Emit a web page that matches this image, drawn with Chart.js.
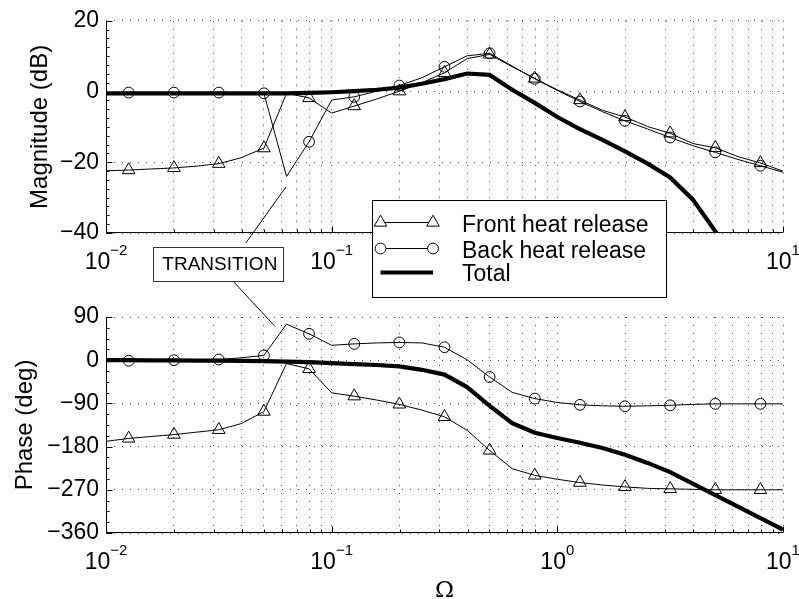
<!DOCTYPE html>
<html>
<head>
<meta charset="utf-8">
<script src="https://cdn.jsdelivr.net/npm/chart.js@4.4.1/dist/chart.umd.min.js"></script>
<style>
  body { margin: 0; background: #fff; }
  #wrap { position: relative; width: 799px; height: 599px; }
  #wrap canvas { position: absolute; left: 0; top: 0; }
</style>
</head>
<body>
<div id="wrap">
  <canvas id="mag-chart" width="799" height="599"></canvas>
  <canvas id="phase-chart" width="799" height="599"></canvas>
</div>
<script>
// frequency points (Omega), markers on every other one
const omega = [0.0100, 0.0126, 0.0158, 0.0200, 0.0251, 0.0316, 0.0398, 0.0501, 0.0631, 0.0794,
  0.1000, 0.1259, 0.1585, 0.1995, 0.2512, 0.3162, 0.3981, 0.5012, 0.6310, 0.7943,
  1.000, 1.259, 1.585, 1.995, 2.512, 3.162, 3.981, 5.012, 6.310, 7.943, 10.00];

// magnitude (dB)
const frontMag = [-22.4, -22.2, -21.9, -21.6, -21.1, -20.4, -18.7, -16.0, -0.5, -1.8,
  -6.1, -4.1, -2.1, 0.1, 2.5, 5.3, 9.3, 10.5, 7.0, 3.7,
  0.5, -2.4, -5.3, -7.2, -9.9, -11.8, -14.7, -15.9, -18.4, -20.2, -22.5];
const backMag = [-0.3, -0.3, -0.3, -0.3, -0.3, -0.3, -0.4, -0.5, -24.0, -14.2,
  -2.4, -1.5, 0.1, 1.7, 3.9, 7.0, 10.1, 10.8, 7.2, 3.6,
  0.3, -2.8, -5.7, -8.3, -10.6, -13.0, -15.3, -17.2, -19.2, -21.0, -22.8];
const totalMag = [-0.5, -0.5, -0.5, -0.5, -0.5, -0.5, -0.5, -0.5, -0.5, -0.4,
  -0.2, 0.1, 0.5, 1.1, 2.2, 3.5, 5.1, 4.7, 0.5, -3.2,
  -7.2, -10.6, -13.7, -16.9, -20.4, -24.3, -30.5, -39.5, -49, -59, -69];

// phase (deg)
const frontPhase = [-169, -163, -159, -155, -150, -145, -132, -107, -7, -18,
  -68, -75, -83, -92, -104, -118, -146, -188, -226, -240,
  -248, -255, -260, -264, -267, -268, -269, -270, -270, -270, -270];
const backPhase = [-1, -1, -0.5, 0, 0.5, 1.5, 5, 10, 75, 55,
  31, 34, 36, 37, 36, 27, 1, -35, -67, -80,
  -88, -93, -95, -96, -95, -94, -92, -91, -91, -91, -91];
const totalPhase = [0, 0, -0.5, -0.5, -1, -1, -1.5, -2, -3, -4,
  -6, -8, -10, -13, -20, -30, -56, -95, -131, -151,
  -162, -172, -183, -197, -214, -233, -257, -281, -305, -329, -353];

// ticks
const xGrid = [0.01, 0.02, 0.03, 0.04, 0.05, 0.06, 0.07, 0.08, 0.09,
  0.1, 0.2, 0.3, 0.4, 0.5, 0.6, 0.7, 0.8, 0.9,
  1, 2, 3, 4, 5, 6, 7, 8, 9, 10];
const decadeTicks = [0.01, 0.1, 1, 10];
const decadeExp = ["\u22122", "\u22121", "0", "1"];
const magTicks = [-40, -20, 0, 20];
const phaseTicks = [-360, -270, -180, -90, 0, 90];

const seriesNames = ["Front heat release", "Back heat release", "Total"];

// transition note anchors (data units)
const noteText = "TRANSITION";
const noteMagTip = { x: 0.0627, y: -27 };
const notePhaseTip = { x: 0.0562, y: 70 };
const noteBoxX = 0.0313;

const FONT = "'Liberation Sans', Arial, Helvetica, sans-serif";

function pts(ys) {
  return omega.map((w, i) => ({ x: w, y: ys[i] }));
}

function makeDatasets(f, b, t) {
  const thin = { borderColor: "#000", borderWidth: 1, pointBorderColor: "#000",
    pointBackgroundColor: "rgba(0,0,0,0)", pointBorderWidth: 1, tension: 0,
    clip: { left: 6, top: 6, right: 6, bottom: 0 } };
  return [
    Object.assign({ label: seriesNames[0], data: pts(f), pointStyle: "triangle",
      pointRadius: (c) => (c.dataIndex % 2 ? 7.3 : 0) }, thin),
    Object.assign({ label: seriesNames[1], data: pts(b), pointStyle: "circle",
      pointRadius: (c) => (c.dataIndex % 2 ? 5.4 : 0) }, thin),
    { label: seriesNames[2], data: pts(t), borderColor: "#000", borderWidth: 4.2,
      pointRadius: 0, tension: 0, clip: { left: 6, top: 6, right: 6, bottom: 0 } },
  ];
}

// black axes on left/bottom with inward ticks + 10^n labels
const matlabAxes = {
  id: "matlabAxes",
  afterDatasetsDraw(chart, args, opts) {
    const { ctx, chartArea: a, scales: { x, y } } = chart;
    const L = Math.round(a.left) + 0.5;
    const B = Math.round(a.bottom) - 0.5;
    ctx.save();
    ctx.strokeStyle = "#000";
    ctx.lineWidth = 1;
    ctx.beginPath();
    ctx.moveTo(L, a.top);
    ctx.lineTo(L, B);
    ctx.lineTo(a.right, B);
    xGrid.forEach((v) => {
      const px = Math.round(x.getPixelForValue(v)) + 0.5;
      const len = decadeTicks.includes(v) ? 6 : 3;
      ctx.moveTo(px, B);
      ctx.lineTo(px, B - len);
    });
    const n = Math.round((y.max - y.min) / opts.minor);
    for (let i = 0; i <= n; i++) {
      const v = y.min + i * opts.minor;
      const py = Math.round(y.getPixelForValue(v)) + 0.5;
      const len = i % opts.per === 0 ? 6 : 3;
      ctx.moveTo(L, py);
      ctx.lineTo(L + len, py);
    }
    ctx.stroke();

    ctx.fillStyle = "#000";
    ctx.textBaseline = "alphabetic";
    ctx.textAlign = "left";
    decadeTicks.forEach((v, i) => {
      const px = x.getPixelForValue(v);
      ctx.font = "23px " + FONT;
      const wb = ctx.measureText("10").width;
      ctx.font = "15px " + FONT;
      const ws = ctx.measureText(decadeExp[i]).width;
      const x0 = px - (wb + ws) / 2;
      ctx.font = "23px " + FONT;
      ctx.fillText("10", x0, a.bottom + 36);
      ctx.font = "15px " + FONT;
      ctx.fillText(decadeExp[i], x0 + wb, a.bottom + 22);
    });
    ctx.restore();
  },
};

// MATLAB style legend box, partly over the axis
const boxLegend = {
  id: "boxLegend",
  afterDraw(chart) {
    const { ctx, chartArea: a } = chart;
    const left = a.left + 266, top = a.top + 179, w = 294, h = 97;
    const rows = [22.6, 48.6, 72];
    ctx.save();
    ctx.fillStyle = "#fff";
    ctx.fillRect(left, top, w, h);
    ctx.strokeStyle = "#000";
    ctx.lineWidth = 1;
    ctx.strokeRect(Math.round(left) + 0.5, Math.round(top) + 0.5, w, h);
    const x1 = left + 8.5, x2 = left + 61;
    chart.data.datasets.forEach((ds, i) => {
      const yy = Math.round(top + rows[i]) + 0.5;
      ctx.strokeStyle = "#000";
      ctx.lineWidth = ds.borderWidth;
      ctx.beginPath();
      ctx.moveTo(x1, yy);
      ctx.lineTo(x2, yy);
      ctx.stroke();
      if (ds.pointStyle) {
        const r = i === 0 ? 7.3 : 5.4;
        [x1, x2].forEach((px) => {
          ctx.lineWidth = 1;
          ctx.fillStyle = "#fff";
          Chart.helpers.drawPoint(ctx, { pointStyle: ds.pointStyle, radius: r, borderWidth: 1 }, px, yy);
        });
      }
      ctx.fillStyle = "#000";
      ctx.font = "23px " + FONT;
      ctx.textBaseline = "alphabetic";
      ctx.fillText(ds.label, left + 90, top + rows[i] + 9.5);
    });
    ctx.restore();
  },
};

function scalesFor(yTicks, yTitle, titlePad, xHeight, xTitle) {
  return {
    x: {
      type: "logarithmic", min: 0.01, max: 10,
      afterBuildTicks: (s) => { s.ticks = xGrid.map((v) => ({ value: v })); },
      afterFit: (s) => { s.height = xHeight; },
      ticks: { display: false },
      grid: { color: "#444", lineWidth: 1, drawTicks: false },
      border: { display: false, dash: [1, 7] },
      title: xTitle,
    },
    y: {
      min: yTicks[0], max: yTicks[yTicks.length - 1],
      afterBuildTicks: (s) => { s.ticks = yTicks.map((v) => ({ value: v })); },
      afterFit: (s) => { s.width = 106; },
      ticks: { color: "#000", padding: 7, font: { family: FONT, size: 23 },
        callback: (v) => String(v).replace("-", "\u2212") },
      grid: { color: "#444", lineWidth: 1, drawTicks: false },
      border: { display: false, dash: [1, 7] },
      title: { display: true, text: yTitle, color: "#000",
        font: { family: FONT, size: 24 }, padding: { top: titlePad, bottom: 0 } },
    },
  };
}

function baseOptions(padTop, scales, minor, per) {
  return {
    responsive: false,
    animation: false,
    layout: { padding: { top: padTop, right: 16, left: 0, bottom: 0 } },
    plugins: { legend: { display: false }, tooltip: { enabled: false },
      matlabAxes: { minor: minor, per: per } },
    scales: scales,
  };
}

const magChart = new Chart(document.getElementById("mag-chart"), {
  type: "line",
  data: { datasets: makeDatasets(frontMag, backMag, totalMag) },
  options: baseOptions(17,
    scalesFor(magTicks, "Magnitude (dB)", 25.6, 366, { display: false }), 2.5, 8),
  plugins: [matlabAxes, boxLegend],
});

// the TRANSITION note spans both panels, drawn on the upper canvas
const transitionNote = {
  id: "transitionNote",
  afterDraw(chart) {
    const { ctx, scales } = chart;
    const m = magChart;
    const bw = 130, bh = 34;
    const bx = m.scales.x.getPixelForValue(noteBoxX) - bw / 2;
    const by = m.chartArea.bottom + 14;
    ctx.save();
    ctx.strokeStyle = "#000";
    ctx.lineWidth = 1;
    ctx.beginPath();
    ctx.moveTo(bx + 93, by - 4);
    ctx.lineTo(m.scales.x.getPixelForValue(noteMagTip.x), m.scales.y.getPixelForValue(noteMagTip.y));
    ctx.moveTo(bx + 81, by + bh + 1);
    ctx.lineTo(scales.x.getPixelForValue(notePhaseTip.x), scales.y.getPixelForValue(notePhaseTip.y));
    ctx.stroke();
    ctx.fillStyle = "#fff";
    ctx.fillRect(bx, by, bw, bh);
    ctx.strokeStyle = "#333";
    ctx.strokeRect(Math.round(bx) + 0.5, Math.round(by) + 0.5, bw, bh);
    ctx.fillStyle = "#000";
    ctx.font = "19px " + FONT;
    ctx.textAlign = "center";
    ctx.textBaseline = "middle";
    ctx.fillText(noteText, bx + bw / 2 + 2, by + bh / 2 + 1);
    ctx.restore();
  },
};

const phaseChart = new Chart(document.getElementById("phase-chart"), {
  type: "line",
  data: { datasets: makeDatasets(frontPhase, backPhase, totalPhase) },
  options: baseOptions(317,
    scalesFor(phaseTicks, "Phase (deg)", 10.6, 66,
      { display: true, text: "\u03A9", color: "#000",
        font: { family: "'DejaVu Serif', 'Liberation Serif', serif", size: 23, lineHeight: 1 },
        padding: { top: 0, bottom: -4 } }), 22.5, 4),
  plugins: [matlabAxes, transitionNote],
});
</script>
</body>
</html>
